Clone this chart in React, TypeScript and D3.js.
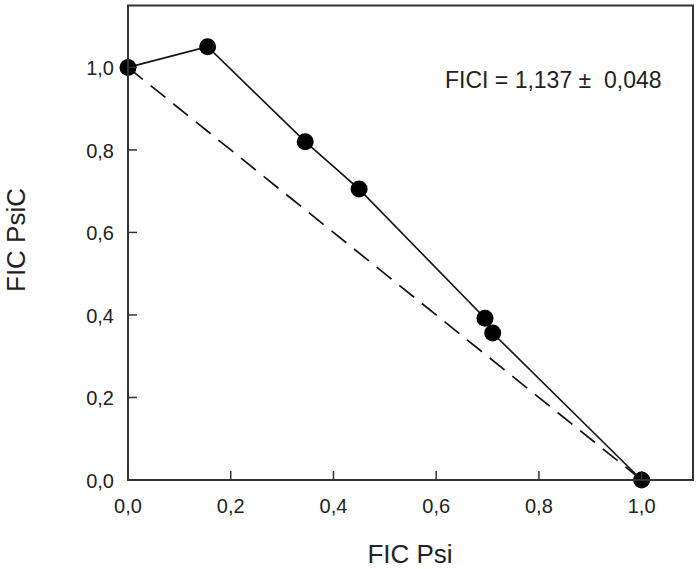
import React from "react";
import * as d3 from "d3";

const xVals = [0, 0.155, 0.345, 0.45, 0.695, 0.71, 1.0];
const yVals = [1.0, 1.05, 0.82, 0.705, 0.392, 0.356, 0.0];
const xTicks = [0, 0.2, 0.4, 0.6, 0.8, 1.0];
const yTicks = [0, 0.2, 0.4, 0.6, 0.8, 1.0];
const additivityLine = [[0, 1], [1, 0]];
const annotation = "FICI = 1,137 \u00b1  0,048";

export default function App() {
  const W = 700, H = 569;
  const left = 128, right = 693, top = 5.5, bottom = 480;
  const x = d3.scaleLinear().domain([0, 1.1]).range([left, right]);
  const y = d3.scaleLinear().domain([0, 1.15]).range([bottom, top]);
  const pts = xVals.map((v, i) => [v, yVals[i]] as [number, number]);
  const line = d3.line<[number, number]>().x(d => x(d[0])).y(d => y(d[1]));
  const fmt = (v: number) => v.toFixed(1).replace(".", ",");
  const font = "Liberation Sans, Arial, sans-serif";
  return (
    <svg width={W} height={H} style={{ position: "absolute", left: 0, top: 0 }} fontFamily={font}>
      <rect x={0} y={0} width={W} height={H} fill="#fff" />
      <path d={line(additivityLine as [number, number][]) || ""} fill="none" stroke="#111" strokeWidth={1.7} strokeDasharray="19,10" />
      <path d={line(pts) || ""} fill="none" stroke="#111" strokeWidth={1.6} />
      {pts.map((p, i) => (
        <circle key={i} cx={x(p[0])} cy={y(p[1])} r={8.5} fill="#000" />
      ))}
      <rect x={left} y={top} width={right - left} height={bottom - top} fill="none" stroke="#333" strokeWidth={2} />
      {xTicks.map(t => (
        <g key={"x" + t}>
          <line x1={x(t)} x2={x(t)} y1={bottom} y2={bottom - 9} stroke="#333" strokeWidth={1.5} />
          <text x={x(t)} y={bottom + 33} textAnchor="middle" fontSize={20} fill="#222">{fmt(t)}</text>
        </g>
      ))}
      {yTicks.map(t => (
        <g key={"y" + t}>
          <line x1={left} x2={left + 9} y1={y(t)} y2={y(t)} stroke="#333" strokeWidth={1.5} />
          <text x={left - 14} y={y(t) + 8} textAnchor="end" fontSize={20} fill="#222">{fmt(t)}</text>
        </g>
      ))}
      <text x={410} y={563} textAnchor="middle" fontSize={26} fill="#222">FIC Psi</text>
      <text transform={`translate(25,240) rotate(-90)`} textAnchor="middle" fontSize={26} fill="#222">FIC PsiC</text>
      <text x={445} y={88} fontSize={23} fill="#222" style={{ whiteSpace: "pre" }} xmlSpace="preserve">{annotation}</text>
    </svg>
  );
}
